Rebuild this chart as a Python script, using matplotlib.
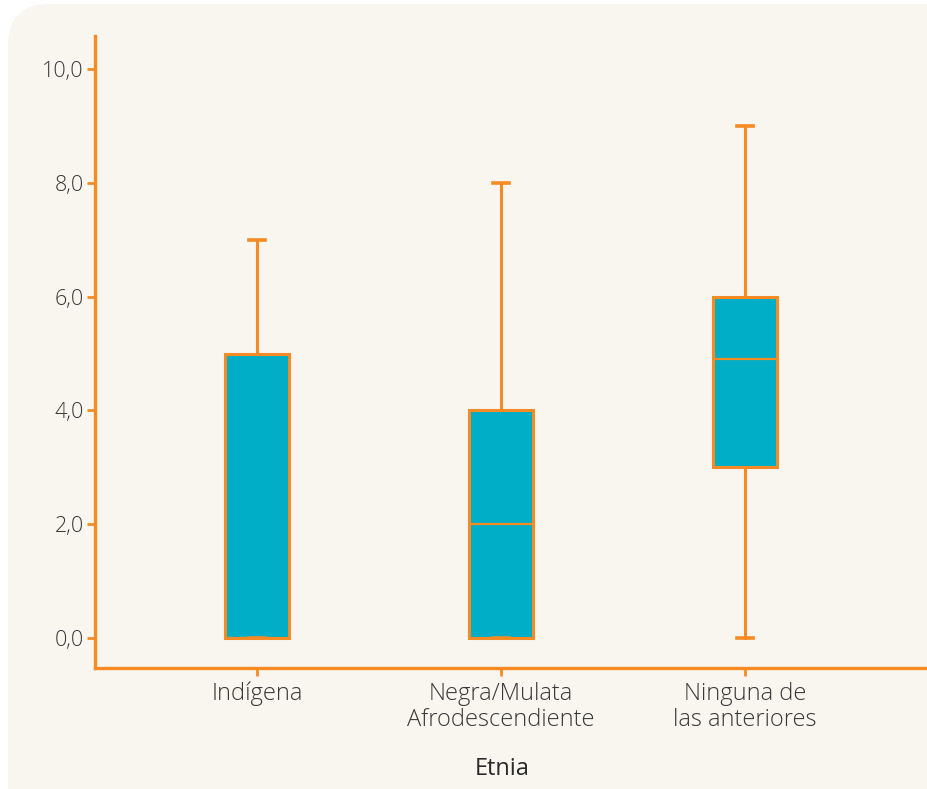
import matplotlib.pyplot as plt
from matplotlib.patches import FancyBboxPatch

categories = ['Indígena', 'Negra/Mulata\nAfrodescendiente', 'Ninguna de\nlas anteriores']
mins = [0.0, 0.0, 0.0]
q1s = [0.0, 0.0, 3.0]
medians = [0.0, 2.0, 4.9]
q3s = [5.0, 4.0, 6.0]
maxs = [7.0, 8.0, 9.0]
yticks = [0, 2, 4, 6, 8, 10]

orange = '#F68B24'
teal = '#00AEC7'
panel = '#F9F6F0'
text_col = '#383838'

plt.rcParams['font.family'] = ['Open Sans', 'DejaVu Sans']
plt.rcParams['font.weight'] = 'light'

fig = plt.figure(figsize=(9.27, 7.89), dpi=100)
fig.patch.set_facecolor('white')
W, H = 927, 789
bg = FancyBboxPatch((8 / W, -0.05), 1.1, 1.05 - 4 / H,
                    boxstyle='round,pad=0,rounding_size=0.045',
                    transform=fig.transFigure, facecolor=panel, edgecolor='none',
                    mutation_aspect=W / H, zorder=-5)
fig.add_artist(bg)

ax = fig.add_axes([95 / W, 1 - 668 / H, (927 - 95) / W, (668 - 36) / H])
ax.set_facecolor('none')
ax.set_zorder(2)

stats = []
for i in range(len(categories)):
    stats.append({'whislo': mins[i], 'q1': q1s[i], 'med': medians[i],
                  'q3': q3s[i], 'whishi': maxs[i], 'fliers': []})

ax.bxp(stats, positions=[1, 2, 3], widths=0.265, capwidths=0.062,
       showfliers=False, patch_artist=True,
       boxprops=dict(facecolor=teal, edgecolor=orange, linewidth=2.2),
       medianprops=dict(color=orange, linewidth=1.6),
       whiskerprops=dict(color=orange, linewidth=2.2),
       capprops=dict(color=orange, linewidth=2.6))

ax.set_xlim(0.336, 3.746)
ax.set_ylim(-0.527, 10.58)
ax.set_yticks(yticks)
ax.set_yticklabels([f'{v:.1f}'.replace('.', ',') for v in yticks], fontsize=15.5)
ax.set_xticks([1, 2, 3])
ax.set_xticklabels(categories, linespacing=1.1, fontsize=17)

for s in ['top', 'right']:
    ax.spines[s].set_visible(False)
for s in ['left', 'bottom']:
    ax.spines[s].set_color(orange)
    ax.spines[s].set_linewidth(2.4)

ax.tick_params(axis='both', colors=orange, labelcolor=text_col,
               width=2, length=6)
ax.tick_params(axis='x', pad=4)
ax.tick_params(axis='y', pad=2)

ax.set_xlabel('Etnia', fontsize=17, color='#2a2a2a', fontweight='normal')
ax.xaxis.set_label_coords(0.4895, -0.141)

fig.savefig('out.png', dpi=100, facecolor='white')
